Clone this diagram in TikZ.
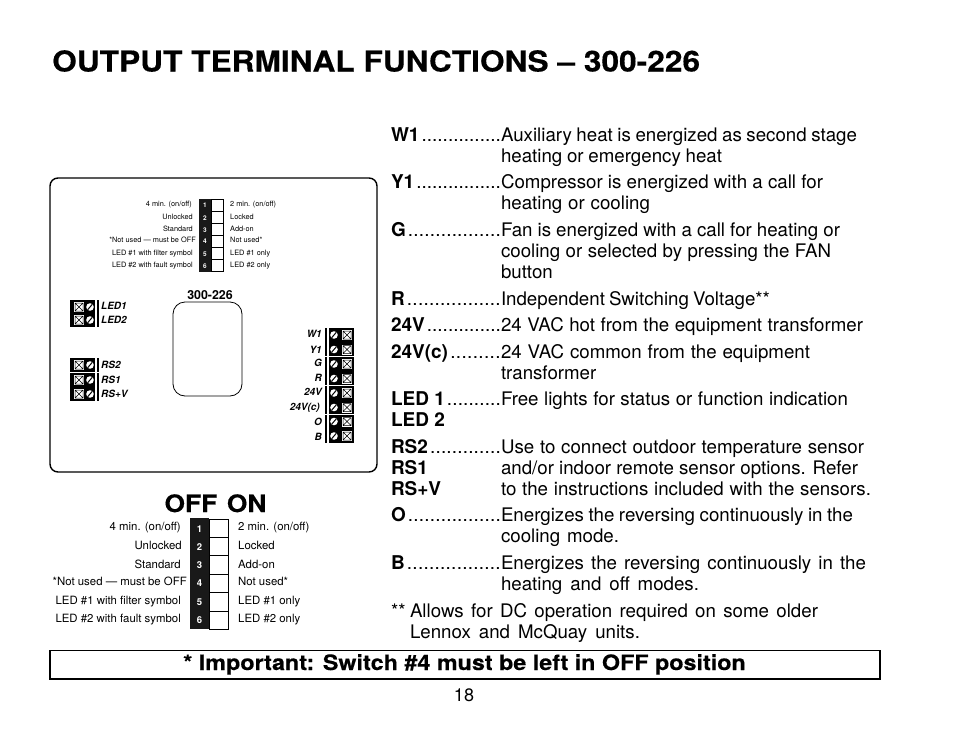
\documentclass[tikz,border=0pt]{standalone}
\usepackage{fontspec}
\setmainfont{TeX Gyre Heros}
\newfontfamily\ttlfont[FakeStretch=1.1,BoldFeatures={FakeBold=0.3}]{TeX Gyre Heros}
\newcommand{\fsz}[1]{\fontsize{#1}{#1}\selectfont}
\newcommand{\dts}{\xleaders\hbox{.}\hfill\kern0pt}
\newcommand{\wj}[2]{\hbox to #1pt{\spaceskip=.278em plus 1em minus .25em\relax #2}}
\newcommand{\lead}[1]{\hbox to 110pt{\fsz{19}\bfseries #1\mdseries\kern2pt\dts}}
\tikzset{
  txt/.style={inner sep=0pt,outer sep=0pt,anchor=base west,font=\fsz{18.7}},
  boldtxt/.style={txt,font=\fsz{19}\bfseries},
  swl/.style={inner sep=0pt,anchor=base east},
  swr/.style={inner sep=0pt,anchor=base west},
  term/.style={inner sep=0pt,font=\fsz{10}\bfseries\itshape},
  pics/crossbox/.style={code={
    \draw[white,fill=white] (-4.5,-4.5) rectangle (4.5,4.5);
    \draw[black,line width=.5pt] (-4,-4) rectangle (4,4) (-4,-4) -- (4,4) (-4,4) -- (4,-4);}},
  pics/screw/.style={code={
    \fill[white] (0,0) circle[radius=3.8];
    \draw[black,line width=1pt] (-2.4,2.8) -- (2.4,-2.8);}}
}
\begin{document}
\begin{tikzpicture}[x=1pt,y=-1pt]
\useasboundingbox[fill=white] (0,0) rectangle (954,734);
% title
\node[inner sep=0pt,anchor=base west,font=\ttlfont\fsz{28.8}\bfseries] (title) at (52,71.5) {OUTPUT TERMINAL FUNCTIONS – 300-226};
% device
\draw[line width=1.4pt,rounded corners=8pt] (50,178) rectangle (377,472);
\draw[line width=.8pt,rounded corners=12pt] (173,302) rectangle (242,396);
\node[inner sep=0pt,anchor=base,font=\fsz{12.4}\bfseries] (model) at (210,299) {300-226};
% small switch
\fill[black!90] (199,199) rectangle (211,272);
\draw[line width=.6pt] (211,199.5) rectangle (223,271.5);
\foreach \y in {211,223,235,247,259} \draw[line width=.6pt] (211,\y) -- (223,\y);
\foreach \n/\y/\l/\lx/\r in {1/204/{4 min. (on/off)}/192/{2 min. (on/off)},2/217/Unlocked/193/Locked,3/229/Standard/193/Add-on,4/240/{*Not used — must be OFF}/196/Not used*,5/253/{LED \#1 with filter symbol}/193/{LED \#1 only},6/265/{LED \#2 with fault symbol}/193/{LED \#2 only}}{
  \node[inner sep=0pt,font=\fsz{6.5}\bfseries,text=white] (sn\n) at (205,\y+1) {\n};
  \node[swl,font=\fsz{7.35}] (sl\n) at (\lx,\y+2.5) {\l};
  \node[swr,font=\fsz{7.35}] (sr\n) at (230,\y+2.5) {\r};
}
% LED terminals
\fill[black] (70,300) rectangle (95,327);
\fill[black] (97,300) rectangle (99,327);
\foreach \y in {307,320}{
  \pic at (79,\y) {crossbox};
  \pic at (90,\y) {screw};
}
\node[term,anchor=base west] (led1) at (101,309) {LED1};
\node[term,anchor=base west] (led2) at (101,323) {LED2};
% RS terminals
\fill[black] (70,358) rectangle (95,401);
\fill[black] (97,358) rectangle (99,401);
\draw[white,line width=.8pt] (70,372.5) -- (99,372.5);
\foreach \y in {365,380,394}{
  \pic at (79,\y) {crossbox};
  \pic at (90,\y) {screw};
}
\node[term,anchor=base west] (rs2) at (101,368) {RS2};
\node[term,anchor=base west] (rs1) at (101,383) {RS1};
\node[term,anchor=base west] (rsv) at (101,397) {RS+V};
% output terminals
\fill[black] (329,328) rectangle (354,443);
\fill[black] (325,328) rectangle (327,443);
\foreach \y in {356,385,414} \draw[white,line width=.8pt] (325,\y) -- (354,\y);
\foreach \y in {335,349.5,364,378.5,393,407.5,421.5,436}{
  \pic at (347,\y) {crossbox};
  \pic at (334,\y) {screw};
}
\foreach \n/\t/\y/\x in {a/W1/337/322,b/Y1/353/322,c/G/366/322,d/R/381/322,e/24V/395/322,f/24V(c)/410/320,g/O/425/322,h/B/440/322}
  \node[term,anchor=base east] (t\n) at (\x,\y) {\t};
% big switch
\node[inner sep=0pt,anchor=base,font=\ttlfont\fsz{24}\bfseries] (offon) at (215.5,512) {OFF\hspace{.4em}ON};
\fill[black!90] (190,518) rectangle (209,629);
\draw[line width=.7pt] (209,519) rectangle (228,629);
\foreach \y in {537,555,574,592,611} \draw[line width=.7pt] (209,\y) -- (228,\y);
\foreach \n/\y/\ny/\l/\lx/\r in {1/527/529/{4 min. (on/off)}/181/{2 min. (on/off)},2/546/547/Unlocked/182/Locked,3/565/565/Standard/181/Add-on,4/582/583/{*Not used — must be OFF}/187/Not used*,5/601/602/{LED \#1 with filter symbol}/181/{LED \#1 only},6/619/620/{LED \#2 with fault symbol}/181/{LED \#2 only}}{
  \node[inner sep=0pt,font=\fsz{9.5}\bfseries,text=white] (bn\n) at (199.5,\ny) {\n};
  \node[swl,font=\fsz{11.4}] (bl\n) at (\lx,\y+3.9) {\l};
  \node[swr,font=\fsz{11.4}] (br\n) at (238,\y+3.9) {\r};
}
% descriptions
\node[txt] (a1) at (391,141) {\lead{W1}};
\node[txt] (a2) at (501,141) {\wj{356}{Auxiliary heat is energized as second stage}};
\node[txt] (a3) at (501,162) {\wj{221}{heating or emergency heat}};
\node[txt] (b1) at (391,188) {\lead{Y1}};
\node[txt] (b2) at (501,188) {\wj{322}{Compressor is energized with a call for}};
\node[txt] (b3) at (501,209) {\wj{149}{heating or cooling}};
\node[txt] (c1) at (391,236) {\lead{G}};
\node[txt] (c2) at (501,236) {\wj{339}{Fan is energized with a call for heating or}};
\node[txt] (c3) at (501,257) {\wj{330}{cooling or selected by pressing the FAN}};
\node[txt] (c4) at (501,278) {button};
\node[txt] (d1) at (391,305) {\lead{R}};
\node[txt] (d2) at (501,305) {\wj{269}{Independent Switching Voltage**}};
\node[txt] (e1) at (391,331) {\lead{24V}};
\node[txt] (e2) at (501,331) {\wj{362}{24 VAC hot from the equipment transformer}};
\node[txt] (f1) at (391,358) {\lead{24V(c)}};
\node[txt] (f2) at (501,358) {\wj{309}{24 VAC common from the equipment}};
\node[txt] (f3) at (501,379) {transformer};
\node[txt] (g1) at (391,405) {\lead{LED 1}};
\node[txt] (g2) at (501,405) {\wj{347}{Free lights for status or function indication}};
\node[boldtxt] (g3) at (391,426) {LED 2};
\node[txt] (h1) at (391,453) {\lead{RS2}};
\node[txt] (h2) at (501,453) {\wj{363}{Use to connect outdoor temperature sensor}};
\node[boldtxt] (h3) at (391,474) {RS1};
\node[txt] (h4) at (501,474) {\wj{357}{and/or indoor remote sensor options. Refer}};
\node[boldtxt] (h5) at (391,495) {RS+V};
\node[txt] (h6) at (501,495) {\wj{370}{to the instructions included with the sensors.}};
\node[txt] (i1) at (391,521) {\lead{O}};
\node[txt] (i2) at (501,521) {\wj{352}{Energizes the reversing continuously in the}};
\node[txt] (i3) at (501,542) {\wj{118}{cooling mode.}};
\node[txt] (j1) at (391,569) {\lead{B}};
\node[txt] (j2) at (501,569) {\wj{365}{Energizes the reversing continuously in the}};
\node[txt] (j3) at (501,590) {\wj{198}{heating and off modes.}};
\node[txt] (k1) at (391,617) {**};
\node[txt] (k2) at (410,617) {\wj{408}{Allows for DC operation required on some older}};
\node[txt] (k3) at (410,638) {\wj{230}{Lennox and McQuay units.}};
% warning
\draw[line width=1.8pt] (50,650.5) rectangle (880,679);
\node[inner sep=0pt,anchor=base,font=\ttlfont\fsz{21.2}\bfseries] (warn) at (464.5,670) {* Important: Switch \#4 must be left in OFF position};
\node[inner sep=0pt,anchor=base,font=\fsz{18}] (page) at (464,701) {18};
\end{tikzpicture}
\end{document}
